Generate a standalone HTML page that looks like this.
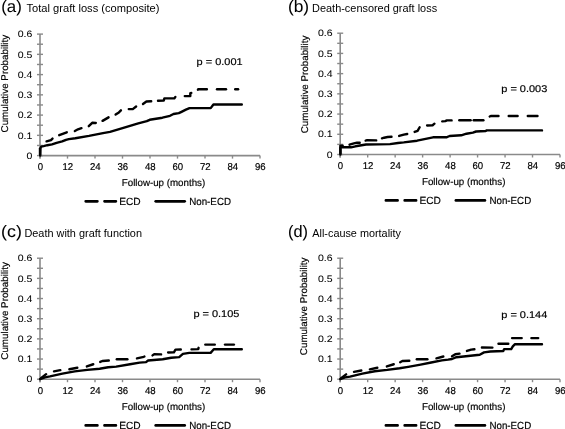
<!DOCTYPE html>
<html><head><meta charset="utf-8"><title>Cumulative probability curves</title>
<style>
html,body{margin:0;padding:0;background:#fff;width:565px;height:429px;overflow:hidden;}
svg{display:block;will-change:transform;}
text{text-rendering:geometricPrecision;font-family:"Liberation Sans", sans-serif;fill:#000;stroke:#000;stroke-width:0.18px;}
</style></head>
<body>
<svg width="565" height="429" viewBox="0 0 565 429">
<rect width="565" height="429" fill="#fff"/>
<line x1="40" y1="34.1" x2="40" y2="158.6" stroke="#8a8a8a" stroke-width="1.6"/>
<line x1="37" y1="155.6" x2="43" y2="155.6" stroke="#8a8a8a" stroke-width="1.4"/>
<line x1="37" y1="145.47" x2="43" y2="145.47" stroke="#8a8a8a" stroke-width="1.4"/>
<line x1="37" y1="135.35" x2="43" y2="135.35" stroke="#8a8a8a" stroke-width="1.4"/>
<line x1="37" y1="125.22" x2="43" y2="125.22" stroke="#8a8a8a" stroke-width="1.4"/>
<line x1="37" y1="115.1" x2="43" y2="115.1" stroke="#8a8a8a" stroke-width="1.4"/>
<line x1="37" y1="104.97" x2="43" y2="104.97" stroke="#8a8a8a" stroke-width="1.4"/>
<line x1="37" y1="94.85" x2="43" y2="94.85" stroke="#8a8a8a" stroke-width="1.4"/>
<line x1="37" y1="84.72" x2="43" y2="84.72" stroke="#8a8a8a" stroke-width="1.4"/>
<line x1="37" y1="74.6" x2="43" y2="74.6" stroke="#8a8a8a" stroke-width="1.4"/>
<line x1="37" y1="64.47" x2="43" y2="64.47" stroke="#8a8a8a" stroke-width="1.4"/>
<line x1="37" y1="54.35" x2="43" y2="54.35" stroke="#8a8a8a" stroke-width="1.4"/>
<line x1="37" y1="44.22" x2="43" y2="44.22" stroke="#8a8a8a" stroke-width="1.4"/>
<line x1="37" y1="34.1" x2="43" y2="34.1" stroke="#8a8a8a" stroke-width="1.4"/>
<line x1="40" y1="155.6" x2="260" y2="155.6" stroke="#8a8a8a" stroke-width="1.6"/>
<line x1="40" y1="155.6" x2="40" y2="158.6" stroke="#8a8a8a" stroke-width="1.4"/>
<line x1="67.5" y1="155.6" x2="67.5" y2="158.6" stroke="#8a8a8a" stroke-width="1.4"/>
<line x1="95" y1="155.6" x2="95" y2="158.6" stroke="#8a8a8a" stroke-width="1.4"/>
<line x1="122.5" y1="155.6" x2="122.5" y2="158.6" stroke="#8a8a8a" stroke-width="1.4"/>
<line x1="150" y1="155.6" x2="150" y2="158.6" stroke="#8a8a8a" stroke-width="1.4"/>
<line x1="177.5" y1="155.6" x2="177.5" y2="158.6" stroke="#8a8a8a" stroke-width="1.4"/>
<line x1="205" y1="155.6" x2="205" y2="158.6" stroke="#8a8a8a" stroke-width="1.4"/>
<line x1="232.5" y1="155.6" x2="232.5" y2="158.6" stroke="#8a8a8a" stroke-width="1.4"/>
<line x1="260" y1="155.6" x2="260" y2="158.6" stroke="#8a8a8a" stroke-width="1.4"/>
<text x="32.3" y="158.8" text-anchor="end" font-size="9.3" textLength="5.84" lengthAdjust="spacingAndGlyphs" style="stroke-width:0.05px">0</text>
<text x="32.3" y="138.55" text-anchor="end" font-size="9.3" textLength="14.6" lengthAdjust="spacingAndGlyphs" style="stroke-width:0.05px">0.1</text>
<text x="32.3" y="118.3" text-anchor="end" font-size="9.3" textLength="14.6" lengthAdjust="spacingAndGlyphs" style="stroke-width:0.05px">0.2</text>
<text x="32.3" y="98.05" text-anchor="end" font-size="9.3" textLength="14.6" lengthAdjust="spacingAndGlyphs" style="stroke-width:0.05px">0.3</text>
<text x="32.3" y="77.8" text-anchor="end" font-size="9.3" textLength="14.6" lengthAdjust="spacingAndGlyphs" style="stroke-width:0.05px">0.4</text>
<text x="32.3" y="57.55" text-anchor="end" font-size="9.3" textLength="14.6" lengthAdjust="spacingAndGlyphs" style="stroke-width:0.05px">0.5</text>
<text x="32.3" y="37.3" text-anchor="end" font-size="9.3" textLength="14.6" lengthAdjust="spacingAndGlyphs" style="stroke-width:0.05px">0.6</text>
<text x="40.3" y="169.9" text-anchor="middle" font-size="9.9" textLength="5.34" lengthAdjust="spacingAndGlyphs">0</text>
<text x="67.8" y="169.9" text-anchor="middle" font-size="9.9" textLength="10.68" lengthAdjust="spacingAndGlyphs">12</text>
<text x="95.3" y="169.9" text-anchor="middle" font-size="9.9" textLength="10.68" lengthAdjust="spacingAndGlyphs">24</text>
<text x="122.8" y="169.9" text-anchor="middle" font-size="9.9" textLength="10.68" lengthAdjust="spacingAndGlyphs">36</text>
<text x="150.3" y="169.9" text-anchor="middle" font-size="9.9" textLength="10.68" lengthAdjust="spacingAndGlyphs">48</text>
<text x="177.8" y="169.9" text-anchor="middle" font-size="9.9" textLength="10.68" lengthAdjust="spacingAndGlyphs">60</text>
<text x="205.3" y="169.9" text-anchor="middle" font-size="9.9" textLength="10.68" lengthAdjust="spacingAndGlyphs">72</text>
<text x="232.8" y="169.9" text-anchor="middle" font-size="9.9" textLength="10.68" lengthAdjust="spacingAndGlyphs">84</text>
<text x="260.3" y="169.9" text-anchor="middle" font-size="9.9" textLength="10.68" lengthAdjust="spacingAndGlyphs">96</text>
<text transform="translate(8.3,83.65) rotate(-90)" text-anchor="middle" font-size="9.75" textLength="97.6" lengthAdjust="spacingAndGlyphs">Cumulative Probability</text>
<text x="163.5" y="186.2" text-anchor="middle" font-size="10" textLength="83.5" lengthAdjust="spacingAndGlyphs">Follow-up (months)</text>
<line x1="85.7" y1="201.3" x2="115.9" y2="201.3" stroke="#000" stroke-width="2.7" stroke-linecap="round" stroke-dasharray="11.7 7.1"/>
<text x="119.2" y="204.9" font-size="10.4" textLength="21.5" lengthAdjust="spacingAndGlyphs">ECD</text>
<line x1="155.7" y1="201.3" x2="184.7" y2="201.3" stroke="#000" stroke-width="2.7" stroke-linecap="round"/>
<text x="189.2" y="204.9" font-size="10.3" textLength="41.8" lengthAdjust="spacingAndGlyphs">Non-ECD</text>
<text x="1.2" y="12.2" font-size="16.5" textLength="20.6" lengthAdjust="spacingAndGlyphs" style="stroke-width:0.05px">(a)</text>
<text x="26.5" y="11.8" font-size="10.8" textLength="132.9" lengthAdjust="spacingAndGlyphs" style="stroke-width:0px;text-rendering:optimizeLegibility">Total graft loss (composite)</text>
<text x="196.6" y="65" font-size="9.8" textLength="46" lengthAdjust="spacingAndGlyphs">p = 0.001</text>
<polyline points="40.2,155.6 40.4,148.5 41.2,146.6 43.6,146.1 47.3,145.2 52,144.4 56.6,142.8 62.2,141.4 66,139.8 68.8,139.1 75.3,138.2 89,135.9 103,133.1 110,131.9 124.2,127.6 138.3,123.4 146.8,121.2 149.7,119.8 162.4,117.7 170,115.8 173.5,114 178.8,113.1 181.5,111.8 185.9,109.6 189.5,108.1 210.7,108.1 213.4,104.5 241.8,104.5" fill="none" stroke="#000" stroke-width="2.4" stroke-linejoin="round" stroke-linecap="round"/>
<polyline points="40,154.5 40,148.6" fill="none" stroke="#000" stroke-width="2.4" stroke-linejoin="round" stroke-linecap="round"/>
<polyline points="46.56,141.39 51,140.1 52.52,138.58" fill="none" stroke="#000" stroke-width="2.4" stroke-linejoin="round" stroke-linecap="round"/>
<polyline points="59.23,135.2 66.77,132.3" fill="none" stroke="#000" stroke-width="2.4" stroke-linejoin="round" stroke-linecap="round"/>
<polyline points="74.86,131.06 78,129.3 81.46,128.15" fill="none" stroke="#000" stroke-width="2.4" stroke-linejoin="round" stroke-linecap="round"/>
<polyline points="88.78,126.22 92.2,122.8 95.8,123.03" fill="none" stroke="#000" stroke-width="2.4" stroke-linejoin="round" stroke-linecap="round"/>
<polyline points="102.55,120.85 108.55,117.35" fill="none" stroke="#000" stroke-width="2.4" stroke-linejoin="round" stroke-linecap="round"/>
<polyline points="115.62,114.59 118.9,112.4 120.92,110.38" fill="none" stroke="#000" stroke-width="2.4" stroke-linejoin="round" stroke-linecap="round"/>
<polyline points="128.8,109.1 132.8,109.1 136.13,106.57" fill="none" stroke="#000" stroke-width="2.4" stroke-linejoin="round" stroke-linecap="round"/>
<polyline points="142.99,103.96 146.4,101.5 151.2,101.26" fill="none" stroke="#000" stroke-width="2.4" stroke-linejoin="round" stroke-linecap="round"/>
<polyline points="158,100.68 163.8,100.6 164.3,98.4 174.4,98.4 175.39,96.92" fill="none" stroke="#000" stroke-width="2.4" stroke-linejoin="round" stroke-linecap="round"/>
<polyline points="184.8,96.1 190.3,96.1 190.3,93.1 191.29,92.94" fill="none" stroke="#000" stroke-width="2.4" stroke-linejoin="round" stroke-linecap="round"/>
<polyline points="197.92,89.64 198.2,89.2 206.9,89.2" fill="none" stroke="#000" stroke-width="2.4" stroke-linejoin="round" stroke-linecap="round"/>
<polyline points="217,89.2 226,89.2" fill="none" stroke="#000" stroke-width="2.4" stroke-linejoin="round" stroke-linecap="round"/>
<polyline points="235.2,89.2 238.1,89.2" fill="none" stroke="#000" stroke-width="2.4" stroke-linejoin="round" stroke-linecap="round"/>
<line x1="340.2" y1="33.2" x2="340.2" y2="157.5" stroke="#8a8a8a" stroke-width="1.6"/>
<line x1="337.2" y1="154.5" x2="343.2" y2="154.5" stroke="#8a8a8a" stroke-width="1.4"/>
<line x1="337.2" y1="144.39" x2="343.2" y2="144.39" stroke="#8a8a8a" stroke-width="1.4"/>
<line x1="337.2" y1="134.28" x2="343.2" y2="134.28" stroke="#8a8a8a" stroke-width="1.4"/>
<line x1="337.2" y1="124.17" x2="343.2" y2="124.17" stroke="#8a8a8a" stroke-width="1.4"/>
<line x1="337.2" y1="114.07" x2="343.2" y2="114.07" stroke="#8a8a8a" stroke-width="1.4"/>
<line x1="337.2" y1="103.96" x2="343.2" y2="103.96" stroke="#8a8a8a" stroke-width="1.4"/>
<line x1="337.2" y1="93.85" x2="343.2" y2="93.85" stroke="#8a8a8a" stroke-width="1.4"/>
<line x1="337.2" y1="83.74" x2="343.2" y2="83.74" stroke="#8a8a8a" stroke-width="1.4"/>
<line x1="337.2" y1="73.63" x2="343.2" y2="73.63" stroke="#8a8a8a" stroke-width="1.4"/>
<line x1="337.2" y1="63.52" x2="343.2" y2="63.52" stroke="#8a8a8a" stroke-width="1.4"/>
<line x1="337.2" y1="53.42" x2="343.2" y2="53.42" stroke="#8a8a8a" stroke-width="1.4"/>
<line x1="337.2" y1="43.31" x2="343.2" y2="43.31" stroke="#8a8a8a" stroke-width="1.4"/>
<line x1="337.2" y1="33.2" x2="343.2" y2="33.2" stroke="#8a8a8a" stroke-width="1.4"/>
<line x1="340.2" y1="154.5" x2="560" y2="154.5" stroke="#8a8a8a" stroke-width="1.6"/>
<line x1="340.2" y1="154.5" x2="340.2" y2="157.5" stroke="#8a8a8a" stroke-width="1.4"/>
<line x1="367.68" y1="154.5" x2="367.68" y2="157.5" stroke="#8a8a8a" stroke-width="1.4"/>
<line x1="395.15" y1="154.5" x2="395.15" y2="157.5" stroke="#8a8a8a" stroke-width="1.4"/>
<line x1="422.62" y1="154.5" x2="422.62" y2="157.5" stroke="#8a8a8a" stroke-width="1.4"/>
<line x1="450.1" y1="154.5" x2="450.1" y2="157.5" stroke="#8a8a8a" stroke-width="1.4"/>
<line x1="477.57" y1="154.5" x2="477.57" y2="157.5" stroke="#8a8a8a" stroke-width="1.4"/>
<line x1="505.05" y1="154.5" x2="505.05" y2="157.5" stroke="#8a8a8a" stroke-width="1.4"/>
<line x1="532.52" y1="154.5" x2="532.52" y2="157.5" stroke="#8a8a8a" stroke-width="1.4"/>
<line x1="560" y1="154.5" x2="560" y2="157.5" stroke="#8a8a8a" stroke-width="1.4"/>
<text x="332.5" y="157.7" text-anchor="end" font-size="9.3" textLength="5.84" lengthAdjust="spacingAndGlyphs" style="stroke-width:0.05px">0</text>
<text x="332.5" y="137.48" text-anchor="end" font-size="9.3" textLength="14.6" lengthAdjust="spacingAndGlyphs" style="stroke-width:0.05px">0.1</text>
<text x="332.5" y="117.27" text-anchor="end" font-size="9.3" textLength="14.6" lengthAdjust="spacingAndGlyphs" style="stroke-width:0.05px">0.2</text>
<text x="332.5" y="97.05" text-anchor="end" font-size="9.3" textLength="14.6" lengthAdjust="spacingAndGlyphs" style="stroke-width:0.05px">0.3</text>
<text x="332.5" y="76.83" text-anchor="end" font-size="9.3" textLength="14.6" lengthAdjust="spacingAndGlyphs" style="stroke-width:0.05px">0.4</text>
<text x="332.5" y="56.62" text-anchor="end" font-size="9.3" textLength="14.6" lengthAdjust="spacingAndGlyphs" style="stroke-width:0.05px">0.5</text>
<text x="332.5" y="36.4" text-anchor="end" font-size="9.3" textLength="14.6" lengthAdjust="spacingAndGlyphs" style="stroke-width:0.05px">0.6</text>
<text x="340.5" y="168.8" text-anchor="middle" font-size="9.9" textLength="5.34" lengthAdjust="spacingAndGlyphs">0</text>
<text x="367.98" y="168.8" text-anchor="middle" font-size="9.9" textLength="10.68" lengthAdjust="spacingAndGlyphs">12</text>
<text x="395.45" y="168.8" text-anchor="middle" font-size="9.9" textLength="10.68" lengthAdjust="spacingAndGlyphs">24</text>
<text x="422.93" y="168.8" text-anchor="middle" font-size="9.9" textLength="10.68" lengthAdjust="spacingAndGlyphs">36</text>
<text x="450.4" y="168.8" text-anchor="middle" font-size="9.9" textLength="10.68" lengthAdjust="spacingAndGlyphs">48</text>
<text x="477.88" y="168.8" text-anchor="middle" font-size="9.9" textLength="10.68" lengthAdjust="spacingAndGlyphs">60</text>
<text x="505.35" y="168.8" text-anchor="middle" font-size="9.9" textLength="10.68" lengthAdjust="spacingAndGlyphs">72</text>
<text x="532.82" y="168.8" text-anchor="middle" font-size="9.9" textLength="10.68" lengthAdjust="spacingAndGlyphs">84</text>
<text x="560.3" y="168.8" text-anchor="middle" font-size="9.9" textLength="10.68" lengthAdjust="spacingAndGlyphs">96</text>
<text transform="translate(307.5,84.5) rotate(-90)" text-anchor="middle" font-size="9.75" textLength="97.6" lengthAdjust="spacingAndGlyphs">Cumulative Probability</text>
<text x="463.7" y="185.3" text-anchor="middle" font-size="10" textLength="83.5" lengthAdjust="spacingAndGlyphs">Follow-up (months)</text>
<line x1="385.9" y1="200.4" x2="416.1" y2="200.4" stroke="#000" stroke-width="2.7" stroke-linecap="round" stroke-dasharray="11.7 7.1"/>
<text x="419.4" y="204" font-size="10.4" textLength="21.5" lengthAdjust="spacingAndGlyphs">ECD</text>
<line x1="455.9" y1="200.4" x2="484.9" y2="200.4" stroke="#000" stroke-width="2.7" stroke-linecap="round"/>
<text x="489.4" y="204" font-size="10.3" textLength="41.8" lengthAdjust="spacingAndGlyphs">Non-ECD</text>
<text x="287.9" y="11.6" font-size="16.5" textLength="21.2" lengthAdjust="spacingAndGlyphs" style="stroke-width:0.05px">(b)</text>
<text x="312.1" y="11.6" font-size="10.2" textLength="125" lengthAdjust="spacingAndGlyphs" style="stroke-width:0px;text-rendering:optimizeLegibility">Death-censored graft loss</text>
<text x="501.3" y="91.9" font-size="9.8" textLength="46" lengthAdjust="spacingAndGlyphs">p = 0.003</text>
<polyline points="340.4,154.5 340.4,147.8 341.6,147.1 351,147.3 355.5,146.3 360,145.5 366,144.5 390,144.1 398,143 403.8,142.4 417.1,140.7 433,137.3 446.4,137.3 449.6,136 461.2,135.3 466.5,133.7 472.9,132.6 476.1,131.5 485.7,131 486.7,130.4 542,130.4" fill="none" stroke="#000" stroke-width="2.4" stroke-linejoin="round" stroke-linecap="round"/>
<polyline points="340.4,153.4 340.4,145.8 342.7,145.8" fill="none" stroke="#000" stroke-width="2.4" stroke-linejoin="round" stroke-linecap="round"/>
<polyline points="349.55,144.69 353.9,143.4 357.1,142.6 359.7,142.81" fill="none" stroke="#000" stroke-width="2.4" stroke-linejoin="round" stroke-linecap="round"/>
<polyline points="365.66,140.6 367.1,140.2 376.2,140.38" fill="none" stroke="#000" stroke-width="2.4" stroke-linejoin="round" stroke-linecap="round"/>
<polyline points="381.96,138.3 384.1,137.7 387.6,137 391.5,136.77" fill="none" stroke="#000" stroke-width="2.4" stroke-linejoin="round" stroke-linecap="round"/>
<polyline points="399.16,135.9 403.8,134.6 407.22,133.99" fill="none" stroke="#000" stroke-width="2.4" stroke-linejoin="round" stroke-linecap="round"/>
<polyline points="414.63,131.91 417.6,130.8 419.65,127.25" fill="none" stroke="#000" stroke-width="2.4" stroke-linejoin="round" stroke-linecap="round"/>
<polyline points="427.1,125.53 432.6,125.2 434.45,123.69" fill="none" stroke="#000" stroke-width="2.4" stroke-linejoin="round" stroke-linecap="round"/>
<polyline points="442.2,121.4 445.3,121.1 446.9,120.4 451.6,120.4" fill="none" stroke="#000" stroke-width="2.4" stroke-linejoin="round" stroke-linecap="round"/>
<polyline points="459.3,120.2 470.6,120.2" fill="none" stroke="#000" stroke-width="2.4" stroke-linejoin="round" stroke-linecap="round"/>
<polyline points="473.7,120.2 483.4,120.2" fill="none" stroke="#000" stroke-width="2.4" stroke-linejoin="round" stroke-linecap="round"/>
<polyline points="489.7,116.55 490.8,116 498.5,116" fill="none" stroke="#000" stroke-width="2.4" stroke-linejoin="round" stroke-linecap="round"/>
<polyline points="508.7,116 517.6,116" fill="none" stroke="#000" stroke-width="2.4" stroke-linejoin="round" stroke-linecap="round"/>
<polyline points="527.8,116 537.5,116" fill="none" stroke="#000" stroke-width="2.4" stroke-linejoin="round" stroke-linecap="round"/>
<line x1="40" y1="258.2" x2="40" y2="382.2" stroke="#8a8a8a" stroke-width="1.6"/>
<line x1="37" y1="379.2" x2="43" y2="379.2" stroke="#8a8a8a" stroke-width="1.4"/>
<line x1="37" y1="369.12" x2="43" y2="369.12" stroke="#8a8a8a" stroke-width="1.4"/>
<line x1="37" y1="359.03" x2="43" y2="359.03" stroke="#8a8a8a" stroke-width="1.4"/>
<line x1="37" y1="348.95" x2="43" y2="348.95" stroke="#8a8a8a" stroke-width="1.4"/>
<line x1="37" y1="338.87" x2="43" y2="338.87" stroke="#8a8a8a" stroke-width="1.4"/>
<line x1="37" y1="328.78" x2="43" y2="328.78" stroke="#8a8a8a" stroke-width="1.4"/>
<line x1="37" y1="318.7" x2="43" y2="318.7" stroke="#8a8a8a" stroke-width="1.4"/>
<line x1="37" y1="308.62" x2="43" y2="308.62" stroke="#8a8a8a" stroke-width="1.4"/>
<line x1="37" y1="298.53" x2="43" y2="298.53" stroke="#8a8a8a" stroke-width="1.4"/>
<line x1="37" y1="288.45" x2="43" y2="288.45" stroke="#8a8a8a" stroke-width="1.4"/>
<line x1="37" y1="278.37" x2="43" y2="278.37" stroke="#8a8a8a" stroke-width="1.4"/>
<line x1="37" y1="268.28" x2="43" y2="268.28" stroke="#8a8a8a" stroke-width="1.4"/>
<line x1="37" y1="258.2" x2="43" y2="258.2" stroke="#8a8a8a" stroke-width="1.4"/>
<line x1="40" y1="379.2" x2="260" y2="379.2" stroke="#8a8a8a" stroke-width="1.6"/>
<line x1="40" y1="379.2" x2="40" y2="382.2" stroke="#8a8a8a" stroke-width="1.4"/>
<line x1="67.5" y1="379.2" x2="67.5" y2="382.2" stroke="#8a8a8a" stroke-width="1.4"/>
<line x1="95" y1="379.2" x2="95" y2="382.2" stroke="#8a8a8a" stroke-width="1.4"/>
<line x1="122.5" y1="379.2" x2="122.5" y2="382.2" stroke="#8a8a8a" stroke-width="1.4"/>
<line x1="150" y1="379.2" x2="150" y2="382.2" stroke="#8a8a8a" stroke-width="1.4"/>
<line x1="177.5" y1="379.2" x2="177.5" y2="382.2" stroke="#8a8a8a" stroke-width="1.4"/>
<line x1="205" y1="379.2" x2="205" y2="382.2" stroke="#8a8a8a" stroke-width="1.4"/>
<line x1="232.5" y1="379.2" x2="232.5" y2="382.2" stroke="#8a8a8a" stroke-width="1.4"/>
<line x1="260" y1="379.2" x2="260" y2="382.2" stroke="#8a8a8a" stroke-width="1.4"/>
<text x="32.3" y="382.4" text-anchor="end" font-size="9.3" textLength="5.84" lengthAdjust="spacingAndGlyphs" style="stroke-width:0.05px">0</text>
<text x="32.3" y="362.23" text-anchor="end" font-size="9.3" textLength="14.6" lengthAdjust="spacingAndGlyphs" style="stroke-width:0.05px">0.1</text>
<text x="32.3" y="342.07" text-anchor="end" font-size="9.3" textLength="14.6" lengthAdjust="spacingAndGlyphs" style="stroke-width:0.05px">0.2</text>
<text x="32.3" y="321.9" text-anchor="end" font-size="9.3" textLength="14.6" lengthAdjust="spacingAndGlyphs" style="stroke-width:0.05px">0.3</text>
<text x="32.3" y="301.73" text-anchor="end" font-size="9.3" textLength="14.6" lengthAdjust="spacingAndGlyphs" style="stroke-width:0.05px">0.4</text>
<text x="32.3" y="281.57" text-anchor="end" font-size="9.3" textLength="14.6" lengthAdjust="spacingAndGlyphs" style="stroke-width:0.05px">0.5</text>
<text x="32.3" y="261.4" text-anchor="end" font-size="9.3" textLength="14.6" lengthAdjust="spacingAndGlyphs" style="stroke-width:0.05px">0.6</text>
<text x="40.3" y="393.5" text-anchor="middle" font-size="9.9" textLength="5.34" lengthAdjust="spacingAndGlyphs">0</text>
<text x="67.8" y="393.5" text-anchor="middle" font-size="9.9" textLength="10.68" lengthAdjust="spacingAndGlyphs">12</text>
<text x="95.3" y="393.5" text-anchor="middle" font-size="9.9" textLength="10.68" lengthAdjust="spacingAndGlyphs">24</text>
<text x="122.8" y="393.5" text-anchor="middle" font-size="9.9" textLength="10.68" lengthAdjust="spacingAndGlyphs">36</text>
<text x="150.3" y="393.5" text-anchor="middle" font-size="9.9" textLength="10.68" lengthAdjust="spacingAndGlyphs">48</text>
<text x="177.8" y="393.5" text-anchor="middle" font-size="9.9" textLength="10.68" lengthAdjust="spacingAndGlyphs">60</text>
<text x="205.3" y="393.5" text-anchor="middle" font-size="9.9" textLength="10.68" lengthAdjust="spacingAndGlyphs">72</text>
<text x="232.8" y="393.5" text-anchor="middle" font-size="9.9" textLength="10.68" lengthAdjust="spacingAndGlyphs">84</text>
<text x="260.3" y="393.5" text-anchor="middle" font-size="9.9" textLength="10.68" lengthAdjust="spacingAndGlyphs">96</text>
<text transform="translate(7.6,310.9) rotate(-90)" text-anchor="middle" font-size="9.75" textLength="97.6" lengthAdjust="spacingAndGlyphs">Cumulative Probability</text>
<text x="163.5" y="410.3" text-anchor="middle" font-size="10" textLength="83.5" lengthAdjust="spacingAndGlyphs">Follow-up (months)</text>
<line x1="85.7" y1="425.4" x2="115.9" y2="425.4" stroke="#000" stroke-width="2.7" stroke-linecap="round" stroke-dasharray="11.7 7.1"/>
<text x="119.2" y="429" font-size="10.4" textLength="21.5" lengthAdjust="spacingAndGlyphs">ECD</text>
<line x1="155.7" y1="425.4" x2="184.7" y2="425.4" stroke="#000" stroke-width="2.7" stroke-linecap="round"/>
<text x="189.2" y="429" font-size="10.3" textLength="41.8" lengthAdjust="spacingAndGlyphs">Non-ECD</text>
<text x="1.1" y="236.6" font-size="16.5" textLength="20.8" lengthAdjust="spacingAndGlyphs" style="stroke-width:0.05px">(c)</text>
<text x="24.4" y="236.5" font-size="10.2" textLength="117.6" lengthAdjust="spacingAndGlyphs" style="stroke-width:0px;text-rendering:optimizeLegibility">Death with graft function</text>
<text x="193.4" y="316.8" font-size="9.8" textLength="46" lengthAdjust="spacingAndGlyphs">p = 0.105</text>
<polyline points="40,379.2 45,377.4 50,376.4 62.4,373.6 74.8,371.4 87.2,369.9 99.6,368.8 108.2,367.3 116.2,366.6 130,364.2 139.6,362.6 146,362.1 148.1,360.5 162.7,359.2 171.2,357.8 179.2,357.1 182.9,353.9 189.3,352.9 210.6,352.9 212.7,350.5 213.8,349.2 241.8,349.2" fill="none" stroke="#000" stroke-width="2.4" stroke-linejoin="round" stroke-linecap="round"/>
<polyline points="40.97,378.13 46.13,374.17" fill="none" stroke="#000" stroke-width="2.4" stroke-linejoin="round" stroke-linecap="round"/>
<polyline points="53.98,371.31 60.32,370.19" fill="none" stroke="#000" stroke-width="2.4" stroke-linejoin="round" stroke-linecap="round"/>
<polyline points="69.38,369.2 77.32,367.7" fill="none" stroke="#000" stroke-width="2.4" stroke-linejoin="round" stroke-linecap="round"/>
<polyline points="86.84,366.44 93.26,364.26" fill="none" stroke="#000" stroke-width="2.4" stroke-linejoin="round" stroke-linecap="round"/>
<polyline points="100.21,361.96 102.4,361 108.8,360.57" fill="none" stroke="#000" stroke-width="2.4" stroke-linejoin="round" stroke-linecap="round"/>
<polyline points="116.8,359.2 127.4,359.2" fill="none" stroke="#000" stroke-width="2.4" stroke-linejoin="round" stroke-linecap="round"/>
<polyline points="136.97,358.36 143.8,356.8 144.41,356.47" fill="none" stroke="#000" stroke-width="2.4" stroke-linejoin="round" stroke-linecap="round"/>
<polyline points="152.5,355.37 154.2,354.2 161.1,354.37" fill="none" stroke="#000" stroke-width="2.4" stroke-linejoin="round" stroke-linecap="round"/>
<polyline points="168.1,352.47 173.9,352.3 175.5,349.6 180.8,349.43" fill="none" stroke="#000" stroke-width="2.4" stroke-linejoin="round" stroke-linecap="round"/>
<polyline points="191.5,349.36 198.3,349.1 198.58,347.84" fill="none" stroke="#000" stroke-width="2.4" stroke-linejoin="round" stroke-linecap="round"/>
<polyline points="205.3,344.6 214.8,344.6" fill="none" stroke="#000" stroke-width="2.4" stroke-linejoin="round" stroke-linecap="round"/>
<polyline points="225,344.6 233.9,344.6" fill="none" stroke="#000" stroke-width="2.4" stroke-linejoin="round" stroke-linecap="round"/>
<line x1="340.2" y1="258.2" x2="340.2" y2="382.2" stroke="#8a8a8a" stroke-width="1.6"/>
<line x1="337.2" y1="379.2" x2="343.2" y2="379.2" stroke="#8a8a8a" stroke-width="1.4"/>
<line x1="337.2" y1="369.12" x2="343.2" y2="369.12" stroke="#8a8a8a" stroke-width="1.4"/>
<line x1="337.2" y1="359.03" x2="343.2" y2="359.03" stroke="#8a8a8a" stroke-width="1.4"/>
<line x1="337.2" y1="348.95" x2="343.2" y2="348.95" stroke="#8a8a8a" stroke-width="1.4"/>
<line x1="337.2" y1="338.87" x2="343.2" y2="338.87" stroke="#8a8a8a" stroke-width="1.4"/>
<line x1="337.2" y1="328.78" x2="343.2" y2="328.78" stroke="#8a8a8a" stroke-width="1.4"/>
<line x1="337.2" y1="318.7" x2="343.2" y2="318.7" stroke="#8a8a8a" stroke-width="1.4"/>
<line x1="337.2" y1="308.62" x2="343.2" y2="308.62" stroke="#8a8a8a" stroke-width="1.4"/>
<line x1="337.2" y1="298.53" x2="343.2" y2="298.53" stroke="#8a8a8a" stroke-width="1.4"/>
<line x1="337.2" y1="288.45" x2="343.2" y2="288.45" stroke="#8a8a8a" stroke-width="1.4"/>
<line x1="337.2" y1="278.37" x2="343.2" y2="278.37" stroke="#8a8a8a" stroke-width="1.4"/>
<line x1="337.2" y1="268.28" x2="343.2" y2="268.28" stroke="#8a8a8a" stroke-width="1.4"/>
<line x1="337.2" y1="258.2" x2="343.2" y2="258.2" stroke="#8a8a8a" stroke-width="1.4"/>
<line x1="340.2" y1="379.2" x2="560" y2="379.2" stroke="#8a8a8a" stroke-width="1.6"/>
<line x1="340.2" y1="379.2" x2="340.2" y2="382.2" stroke="#8a8a8a" stroke-width="1.4"/>
<line x1="367.68" y1="379.2" x2="367.68" y2="382.2" stroke="#8a8a8a" stroke-width="1.4"/>
<line x1="395.15" y1="379.2" x2="395.15" y2="382.2" stroke="#8a8a8a" stroke-width="1.4"/>
<line x1="422.62" y1="379.2" x2="422.62" y2="382.2" stroke="#8a8a8a" stroke-width="1.4"/>
<line x1="450.1" y1="379.2" x2="450.1" y2="382.2" stroke="#8a8a8a" stroke-width="1.4"/>
<line x1="477.57" y1="379.2" x2="477.57" y2="382.2" stroke="#8a8a8a" stroke-width="1.4"/>
<line x1="505.05" y1="379.2" x2="505.05" y2="382.2" stroke="#8a8a8a" stroke-width="1.4"/>
<line x1="532.52" y1="379.2" x2="532.52" y2="382.2" stroke="#8a8a8a" stroke-width="1.4"/>
<line x1="560" y1="379.2" x2="560" y2="382.2" stroke="#8a8a8a" stroke-width="1.4"/>
<text x="332.5" y="382.4" text-anchor="end" font-size="9.3" textLength="5.84" lengthAdjust="spacingAndGlyphs" style="stroke-width:0.05px">0</text>
<text x="332.5" y="362.23" text-anchor="end" font-size="9.3" textLength="14.6" lengthAdjust="spacingAndGlyphs" style="stroke-width:0.05px">0.1</text>
<text x="332.5" y="342.07" text-anchor="end" font-size="9.3" textLength="14.6" lengthAdjust="spacingAndGlyphs" style="stroke-width:0.05px">0.2</text>
<text x="332.5" y="321.9" text-anchor="end" font-size="9.3" textLength="14.6" lengthAdjust="spacingAndGlyphs" style="stroke-width:0.05px">0.3</text>
<text x="332.5" y="301.73" text-anchor="end" font-size="9.3" textLength="14.6" lengthAdjust="spacingAndGlyphs" style="stroke-width:0.05px">0.4</text>
<text x="332.5" y="281.57" text-anchor="end" font-size="9.3" textLength="14.6" lengthAdjust="spacingAndGlyphs" style="stroke-width:0.05px">0.5</text>
<text x="332.5" y="261.4" text-anchor="end" font-size="9.3" textLength="14.6" lengthAdjust="spacingAndGlyphs" style="stroke-width:0.05px">0.6</text>
<text x="340.5" y="393.5" text-anchor="middle" font-size="9.9" textLength="5.34" lengthAdjust="spacingAndGlyphs">0</text>
<text x="367.98" y="393.5" text-anchor="middle" font-size="9.9" textLength="10.68" lengthAdjust="spacingAndGlyphs">12</text>
<text x="395.45" y="393.5" text-anchor="middle" font-size="9.9" textLength="10.68" lengthAdjust="spacingAndGlyphs">24</text>
<text x="422.93" y="393.5" text-anchor="middle" font-size="9.9" textLength="10.68" lengthAdjust="spacingAndGlyphs">36</text>
<text x="450.4" y="393.5" text-anchor="middle" font-size="9.9" textLength="10.68" lengthAdjust="spacingAndGlyphs">48</text>
<text x="477.88" y="393.5" text-anchor="middle" font-size="9.9" textLength="10.68" lengthAdjust="spacingAndGlyphs">60</text>
<text x="505.35" y="393.5" text-anchor="middle" font-size="9.9" textLength="10.68" lengthAdjust="spacingAndGlyphs">72</text>
<text x="532.82" y="393.5" text-anchor="middle" font-size="9.9" textLength="10.68" lengthAdjust="spacingAndGlyphs">84</text>
<text x="560.3" y="393.5" text-anchor="middle" font-size="9.9" textLength="10.68" lengthAdjust="spacingAndGlyphs">96</text>
<text transform="translate(306.8,306.35) rotate(-90)" text-anchor="middle" font-size="9.75" textLength="97.6" lengthAdjust="spacingAndGlyphs">Cumulative Probability</text>
<text x="463.7" y="410.3" text-anchor="middle" font-size="10" textLength="83.5" lengthAdjust="spacingAndGlyphs">Follow-up (months)</text>
<line x1="385.9" y1="425.4" x2="416.1" y2="425.4" stroke="#000" stroke-width="2.7" stroke-linecap="round" stroke-dasharray="11.7 7.1"/>
<text x="419.4" y="429" font-size="10.4" textLength="21.5" lengthAdjust="spacingAndGlyphs">ECD</text>
<line x1="455.9" y1="425.4" x2="484.9" y2="425.4" stroke="#000" stroke-width="2.7" stroke-linecap="round"/>
<text x="489.4" y="429" font-size="10.3" textLength="41.8" lengthAdjust="spacingAndGlyphs">Non-ECD</text>
<text x="288" y="236.6" font-size="16.5" textLength="20" lengthAdjust="spacingAndGlyphs" style="stroke-width:0.05px">(d)</text>
<text x="312.3" y="236.6" font-size="10.2" textLength="88.6" lengthAdjust="spacingAndGlyphs" style="stroke-width:0px;text-rendering:optimizeLegibility">All-cause mortality</text>
<text x="501.3" y="318.1" font-size="9.8" textLength="46" lengthAdjust="spacingAndGlyphs">p = 0.144</text>
<polyline points="340.2,379.2 345,377.4 350,376.6 362.4,373.6 374.8,371.2 387.2,369.9 399.6,368.3 408.2,366.9 420.6,364.6 431.2,362.5 441.9,360.4 448.1,359.6 452,359 456.4,357.2 465.9,356.2 479.7,354.7 484,352.4 490.4,351.5 503.3,351 504.1,349.1 511.2,349.1 512.8,346.4 515,344.2 542,344.2" fill="none" stroke="#000" stroke-width="2.4" stroke-linejoin="round" stroke-linecap="round"/>
<polyline points="341.08,378.14 346.12,374.36" fill="none" stroke="#000" stroke-width="2.4" stroke-linejoin="round" stroke-linecap="round"/>
<polyline points="353.98,371.9 361.32,370.5" fill="none" stroke="#000" stroke-width="2.4" stroke-linejoin="round" stroke-linecap="round"/>
<polyline points="369.87,369.36 377.33,367.74" fill="none" stroke="#000" stroke-width="2.4" stroke-linejoin="round" stroke-linecap="round"/>
<polyline points="386.85,366.46 393.75,364.24" fill="none" stroke="#000" stroke-width="2.4" stroke-linejoin="round" stroke-linecap="round"/>
<polyline points="400.16,362.26 402.4,361 409.3,360.74" fill="none" stroke="#000" stroke-width="2.4" stroke-linejoin="round" stroke-linecap="round"/>
<polyline points="416.8,359.2 427.4,359.2" fill="none" stroke="#000" stroke-width="2.4" stroke-linejoin="round" stroke-linecap="round"/>
<polyline points="436.46,358.32 443.34,356.48" fill="none" stroke="#000" stroke-width="2.4" stroke-linejoin="round" stroke-linecap="round"/>
<polyline points="452.03,356.31 455.3,354.2 459.51,353.64" fill="none" stroke="#000" stroke-width="2.4" stroke-linejoin="round" stroke-linecap="round"/>
<polyline points="466.95,350.96 471.2,349.6 474.4,349.3" fill="none" stroke="#000" stroke-width="2.4" stroke-linejoin="round" stroke-linecap="round"/>
<polyline points="481.9,347.51 492.4,347.59" fill="none" stroke="#000" stroke-width="2.4" stroke-linejoin="round" stroke-linecap="round"/>
<polyline points="498.5,343.8 508.3,343.8" fill="none" stroke="#000" stroke-width="2.4" stroke-linejoin="round" stroke-linecap="round"/>
<polyline points="512.1,338.1 521.7,338.1" fill="none" stroke="#000" stroke-width="2.4" stroke-linejoin="round" stroke-linecap="round"/>
<polyline points="531.4,338.1 538.2,338.1" fill="none" stroke="#000" stroke-width="2.4" stroke-linejoin="round" stroke-linecap="round"/>
</svg>
</body></html>
